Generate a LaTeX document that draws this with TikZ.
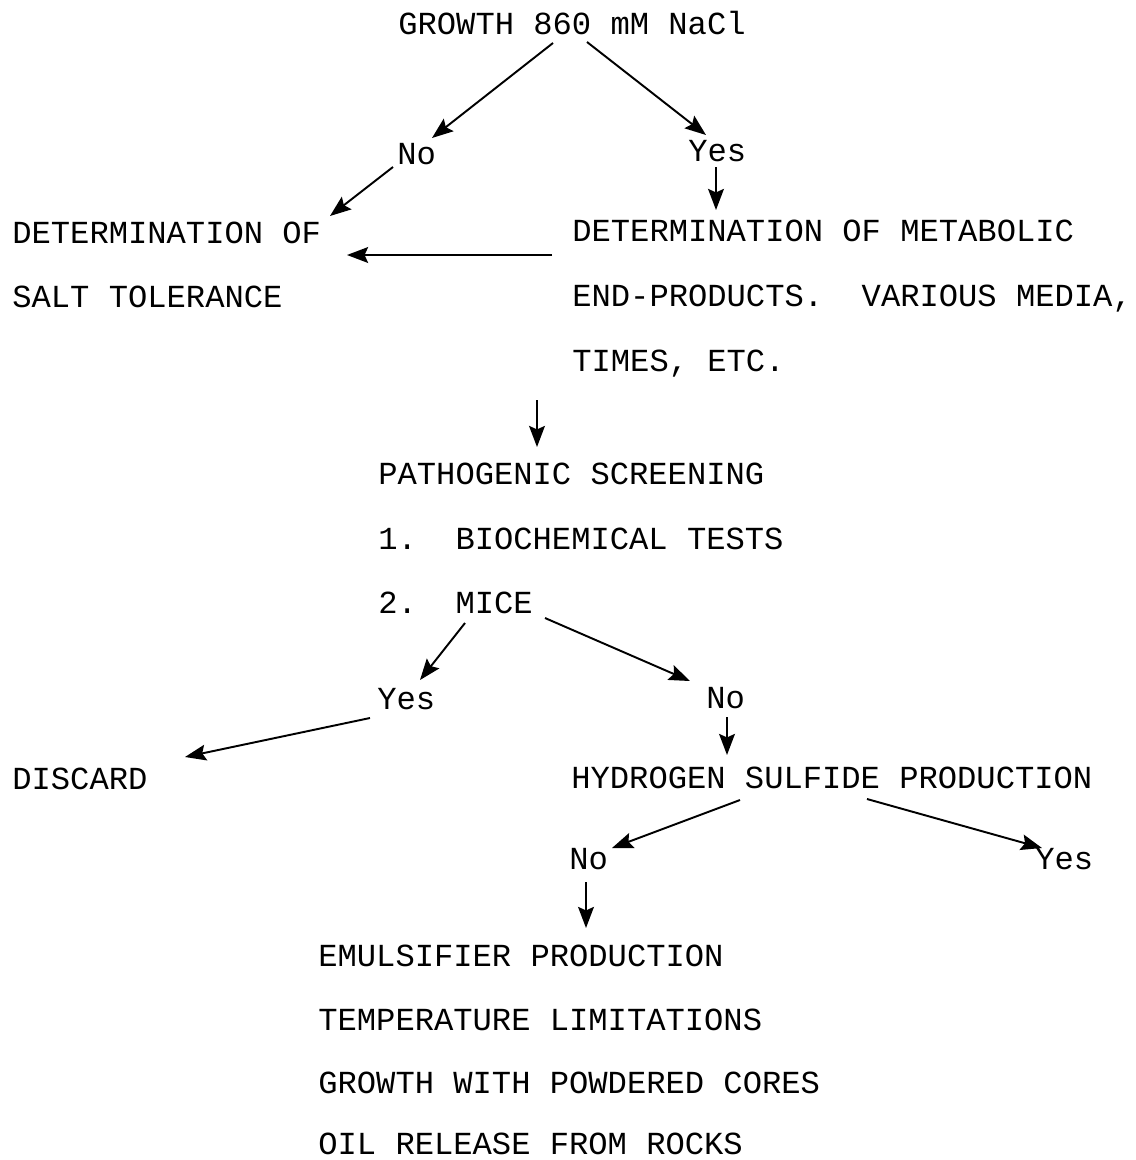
\documentclass[tikz,border=0pt]{standalone}
\usepackage{fontspec}
\setmonofont{Liberation Mono}
\usetikzlibrary{arrows.meta,calc}

\begin{document}
\begin{tikzpicture}[x=0.02cm,y=-0.02cm,
		lbl/.style={anchor=base west,inner sep=0pt,font=\fontsize{18.3}{22}\selectfont\ttfamily},
		->/.style={-{Stealth[length=12pt,width=9pt,inset=2pt]},line width=1.1pt}]
			\useasboundingbox (0,0) rectangle (1136,1160);

			\node[lbl] (g) at (398,34) {GROWTH 860 mM NaCl};
			\node[lbl] (no) at (397,164) {No};
			\node[lbl] (yes) at (688,161) {Yes};
			\draw[->] ($(g.base west)+(155,9)$) to ($(no.base west)+(35,-26)$);
			\draw[->] ($(g.base west)+(189,8)$) to ($(yes.base west)+(18,-26)$);

			\node[lbl] (st) at (12,243) {DETERMINATION OF};
			\node[lbl] (st') at (12,307) {SALT TOLERANCE};
			\node[lbl] (m) at (572,241) {DETERMINATION OF METABOLIC};
			\node[lbl] (m') at (572,306) {END-PRODUCTS.\ \ VARIOUS MEDIA,};
			\node[lbl] (m'') at (572,371) {TIMES, ETC.};
			\draw[->] ($(no.base west)+(-4,3)$) to ($(st.base west)+(318,-27)$);
			\draw[->] ($(yes.base west)+(28,6)$) to ($(m.base west)+(144,-31)$);
			\draw[->] ($(m.base west)+(-20,14)$) to ($(st.base west)+(335,12)$);

			\node[lbl] (p) at (378,484) {PATHOGENIC SCREENING};
			\node[lbl] (p') at (378,549) {1.\ \ BIOCHEMICAL TESTS};
			\node[lbl] (p'') at (378,613) {2.\ \ MICE};
			\draw[->] ($(m''.base west)+(-35,29)$) to ($(p.base west)+(159,-37)$);

			\node[lbl] (yes') at (377,709) {Yes};
			\node[lbl] (no') at (706,708) {No};
			\node[lbl] (d) at (12,789) {DISCARD};
			\node[lbl] (h) at (571,788) {HYDROGEN SULFIDE PRODUCTION};
			\draw[->] ($(p''.base west)+(87,10)$) to ($(yes'.base west)+(43,-29)$);
			\draw[->] ($(p''.base west)+(167,5)$) to ($(no'.base west)+(-16,-27)$);
			\draw[->] ($(yes'.base west)+(-7,9)$) to ($(d.base west)+(173,-32)$);
			\draw[->] ($(no'.base west)+(21,9)$) to ($(h.base west)+(156,-33)$);

			\node[lbl] (no'') at (569,869) {No};
			\node[lbl] (yes'') at (1035,869) {Yes};
			\draw[->] ($(h.base west)+(169,12)$) to ($(no''.base west)+(43,-21)$);
			\draw[->] ($(h.base west)+(296,11)$) to ($(yes''.base west)+(7,-21)$);

			\node[lbl] (e) at (318,966) {EMULSIFIER PRODUCTION};
			\node[lbl] (e') at (318,1030) {TEMPERATURE LIMITATIONS};
			\node[lbl] (e'') at (318,1093) {GROWTH WITH POWDERED CORES};
			\node[lbl] (e''') at (318,1154) {OIL RELEASE FROM ROCKS};
			\draw[->] ($(no''.base west)+(17,13)$) to ($(e.base west)+(268,-38)$);
		\end{tikzpicture}
\end{document}
